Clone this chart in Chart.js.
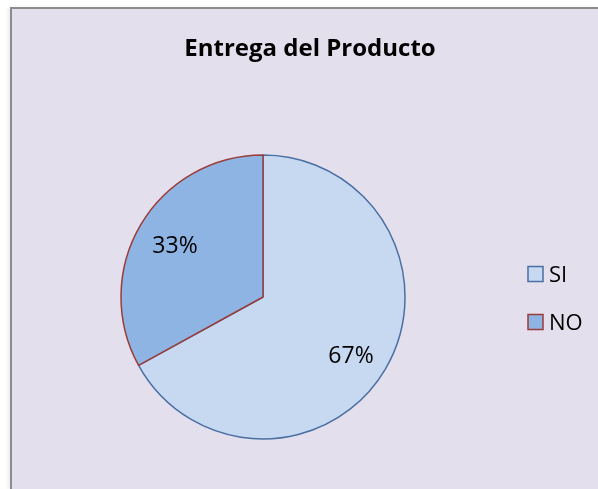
<!DOCTYPE html>
<html>
<head>
<meta charset="utf-8">
<script src="https://cdn.jsdelivr.net/npm/chart.js@4.4.0/dist/chart.umd.min.js"></script>
<style>
  html, body { margin: 0; padding: 0; background: #fff; }
  #frame {
    position: absolute; left: 10px; top: 7px; width: 588px; height: 482px;
    background: #E4DFEC; border-top: 2px solid #8C8C8C; border-left: 2px solid #8C8C8C;
    box-sizing: border-box; box-shadow: -2px 0 3px rgba(0,0,0,0.08);
  }
  #wrap { position: absolute; left: 0; top: 0; width: 598px; height: 489px; }
</style>
</head>
<body>
<div id="frame"></div>
<div id="wrap"><canvas id="pieChart" width="598" height="489"></canvas></div>
<script>
const chartTitle = 'Entrega del Producto';
const categories = ['SI', 'NO'];
const values = [67, 33];
const fillColors = ['#C6D9F1', '#8EB4E3'];
const borderColors = ['#4A6FA3', '#9B3B38'];

const FONT = '"Open Sans", Lato, sans-serif';

// titre, étiquettes de pourcentage et légende dessinés à la main
const extras = {
    id: 'extras',
    afterDraw(chart) {
        const ctx = chart.ctx;
        ctx.save();
        ctx.fillStyle = '#000';
        ctx.textBaseline = 'alphabetic';

        ctx.font = 'bold 24px ' + FONT;
        ctx.textAlign = 'center';
        ctx.fillText(chartTitle, 310, 56);

        const meta = chart.getDatasetMeta(0);
        const total = values.reduce((a, b) => a + b, 0);
        ctx.font = '23px ' + FONT;
        meta.data.forEach((arc, i) => {
            const mid = (arc.startAngle + arc.endAngle) / 2;
            const r = arc.outerRadius * 0.72;
            const x = arc.x + Math.cos(mid) * r;
            const y = arc.y + Math.sin(mid) * r;
            // petit décalage vers le bas pour l'étiquette du bas, comme Excel
            const dy = Math.sin(mid) > 0 ? 14 : 8;
            ctx.fillText(Math.round(values[i] / total * 100) + '%', x, y + dy);
        });

        ctx.textAlign = 'left';
        ctx.font = '22px ' + FONT;
        categories.forEach((name, i) => {
            const y = 274 + i * 48;
            ctx.fillStyle = fillColors[i];
            ctx.fillRect(528, y - 7.5, 15, 15);
            ctx.strokeStyle = borderColors[i];
            ctx.lineWidth = 1.5;
            ctx.strokeRect(528, y - 7.5, 15, 15);
            ctx.fillStyle = '#000';
            ctx.fillText(name, 549, y + 8);
        });
        ctx.restore();
    }
};

new Chart(document.getElementById('pieChart').getContext('2d'), {
    type: 'pie',
    data: {
        labels: categories,
        datasets: [{
            data: values,
            backgroundColor: fillColors,
            borderColor: borderColors,
            borderWidth: 1.5
        }]
    },
    options: {
        responsive: false,
        animation: false,
        radius: 142,
        layout: { padding: { left: 121, right: 193, top: 155, bottom: 50 } },
        plugins: {
            legend: { display: false },
            tooltip: { enabled: false },
            title: { display: false }
        }
    },
    plugins: [extras]
});
</script>
</body>
</html>
